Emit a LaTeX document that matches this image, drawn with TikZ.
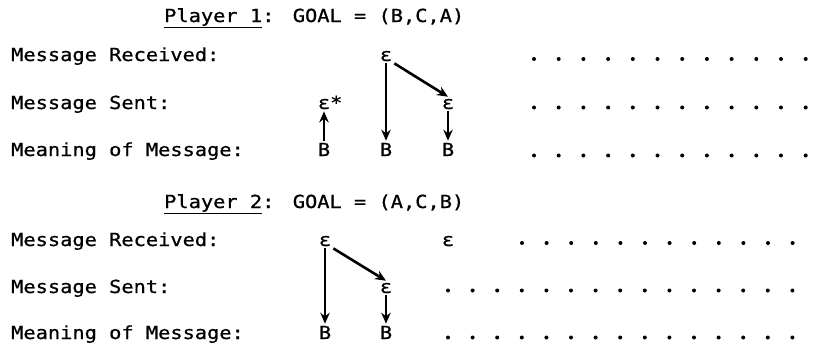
\documentclass[tikz,border=0pt]{standalone}
\usepackage{fontspec}
\usepackage{tikz}
\usetikzlibrary{positioning,arrows.meta}
\newfontfamily\typewriter{DejaVu Sans Mono}[FakeStretch=1.13, FakeBold=0.8]
\newlength{\ulwidth}
\newcommand{\ulword}[1]{\settowidth{\ulwidth}{#1}\rlap{\rule[-6pt]{\ulwidth}{1.3pt}}#1}
\tikzset{
    base/.style={font=\typewriter\fontsize{18}{20}\selectfont, text=black},
    rowlabel/.style={base, anchor=base west, inner sep=0pt},
    sym/.style={base, anchor=base, inner sep=2pt},
    flow/.style={-{Stealth[length=11pt, width=9.5pt]}, line width=2.6pt},
    typedot/.style={fill=black}
}

\begin{document}
\begin{tikzpicture}[x=1pt, y=-1pt]
  \useasboundingbox (0,0) rectangle (814,348);

  % Player 1
  \node[rowlabel] (p1) at (164,22) {\ulword{Player 1}:};
  \node[rowlabel, base right=18pt of p1] (g1) {GOAL = (B,C,A)};
  \node[rowlabel] (r1) at (11,61) {Message Received:};
  \node[rowlabel] (s1) at (11,109) {Message Sent:};
  \node[rowlabel] (m1) at (11,156) {Meaning of Message:};

  \node[sym] (p1e1) at (324,109) {ε\rlap{*}};
  \node[sym] (p1b1) at (324,156) {B};
  \node[sym] (p1e2) at (386,61) {ε};
  \node[sym] (p1b2) at (386,156) {B};
  \node[sym] (p1e3) at (448,109) {ε};
  \node[sym] (p1b3) at (448,156) {B};

  \draw[flow] (p1b1) -- (p1e1.south);
  \draw[flow] (p1e2) -- (p1b2);
  \draw[flow] (p1e2.south east) -- (p1e3.north);
  \draw[flow] (p1e3) -- (p1b3);

  \foreach \y in {59,107.5,155.5}
    \foreach \i in {0,...,11}
      \fill[typedot] (534+24.7*\i,\y) circle (2);

  % Player 2
  \node[rowlabel] (p2) at (164,208) {\ulword{Player 2}:};
  \node[rowlabel, base right=18pt of p2] (g2) {GOAL = (A,C,B)};
  \node[rowlabel] (r2) at (11,246) {Message Received:};
  \node[rowlabel] (s2) at (11,293) {Message Sent:};
  \node[rowlabel] (m2) at (11,339) {Meaning of Message:};

  \node[sym] (p2e1) at (325,246) {ε};
  \node[sym] (p2b1) at (325,339) {B};
  \node[sym] (p2e2) at (386,293) {ε};
  \node[sym] (p2b2) at (386,339) {B};
  \node[sym] (p2e3) at (448,246) {ε};

  \draw[flow] (p2e1) -- (p2b1);
  \draw[flow] (p2e1.south east) -- (p2e2.north);
  \draw[flow] (p2e2) -- (p2b2);

  \foreach \i in {0,...,11}
    \fill[typedot] (522+24.6*\i,243) circle (2);
  \foreach \y in {290.5,337.5}
    \foreach \i in {0,...,14}
      \fill[typedot] (448+24.6*\i,\y) circle (2);
\end{tikzpicture}
\end{document}
